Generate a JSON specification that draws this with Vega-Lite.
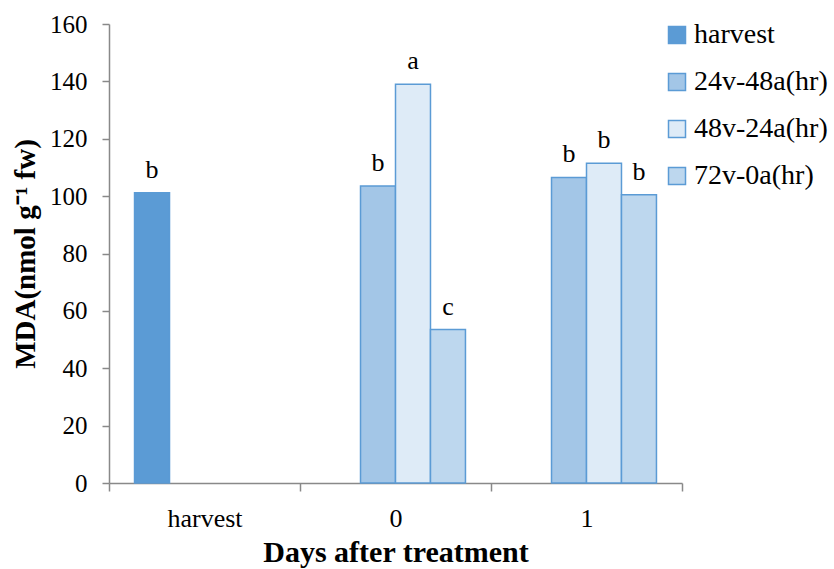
{
  "$schema": "https://vega.github.io/schema/vega-lite/v6.json",
  "width": 573,
  "height": 459,
  "autosize": {"type": "none"},
  "padding": {"left": 109, "top": 24, "right": 152, "bottom": 86},
  "background": "white",
  "config": {
    "view": {"stroke": null},
    "font": "Liberation Serif",
    "axis": {"labelFont": "Liberation Serif", "titleFont": "Liberation Serif"},
    "legend": {"labelFont": "Liberation Serif", "titleFont": "Liberation Serif"},
    "text": {"font": "Liberation Serif"}
  },
  "data": {
    "values": [
      {"day": "harvest", "series": "harvest", "value": 101.2, "label": "b"},
      {"day": "0", "series": "24v-48a(hr)", "value": 103.5, "label": "b"},
      {"day": "0", "series": "48v-24a(hr)", "value": 139.0, "label": "a"},
      {"day": "0", "series": "72v-0a(hr)", "value": 53.5, "label": "c"},
      {"day": "1", "series": "24v-48a(hr)", "value": 106.5, "label": "b"},
      {"day": "1", "series": "48v-24a(hr)", "value": 111.5, "label": "b"},
      {"day": "1", "series": "72v-0a(hr)", "value": 100.5, "label": "b"}
    ]
  },
  "encoding": {
    "x": {
      "field": "day",
      "type": "nominal",
      "sort": ["harvest", "0", "1"],
      "scale": {"paddingInner": 0, "paddingOuter": 0},
      "axis": {
        "title": "Days after treatment",
        "titleFont": "Liberation Serif",
        "titleFontSize": 30,
        "titleFontWeight": "bold",
        "titleColor": "black",
        "titlePadding": 6,
        "labelFont": "Liberation Serif",
        "labelAngle": 0,
        "labelFontSize": 26,
        "labelColor": "black",
        "labelPadding": 14,
        "tickBand": "extent",
        "tickSize": 8,
        "tickColor": "#898989",
        "tickWidth": 1.5,
        "domainColor": "#898989",
        "domainWidth": 1.5,
        "grid": false
      }
    },
    "xOffset": {
      "field": "series",
      "type": "nominal",
      "sort": ["harvest", "24v-48a(hr)", "48v-24a(hr)", "72v-0a(hr)"],
      "scale": {"domain": ["harvest", "24v-48a(hr)", "48v-24a(hr)", "72v-0a(hr)"], "paddingInner": 0, "paddingOuter": 0.73}
    },
    "y": {
      "field": "value",
      "type": "quantitative",
      "scale": {"domain": [0, 160]},
      "axis": {
        "title": "MDA(nmol g⁻¹ fw)",
        "titleFont": "Liberation Serif",
        "titleFontSize": 29,
        "titleFontWeight": "bold",
        "titleColor": "black",
        "titlePadding": 9,
        "values": [0, 20, 40, 60, 80, 100, 120, 140, 160],
        "labelFont": "Liberation Serif",
        "labelFontSize": 25,
        "labelColor": "black",
        "labelPadding": 15,
        "tickSize": 7,
        "tickColor": "#898989",
        "tickWidth": 1.5,
        "domainColor": "#898989",
        "domainWidth": 1.5,
        "grid": false
      }
    }
  },
  "layer": [
    {
      "mark": {"type": "bar", "stroke": "#5B9BD5", "strokeWidth": 1.5},
      "encoding": {
        "fill": {
          "field": "series",
          "type": "nominal",
          "scale": {
            "domain": ["harvest", "24v-48a(hr)", "48v-24a(hr)", "72v-0a(hr)"],
            "range": ["#5B9BD5", "#A3C6E7", "#DEEBF7", "#BDD7EE"]
          },
          "legend": {
            "title": null,
            "orient": "none",
            "legendX": 554,
            "legendY": -3,
            "labelFont": "Liberation Serif",
            "labelFontSize": 28,
            "labelColor": "black",
            "labelOffset": 3,
            "symbolType": "square",
            "symbolSize": 289,
            "symbolStrokeColor": "#5B9BD5",
            "symbolStrokeWidth": 1.5,
            "symbolOpacity": 1,
            "rowPadding": 19,
            "labelLimit": 300
          }
        }
      }
    },
    {
      "mark": {"type": "text", "baseline": "alphabetic", "dy": -15, "fontSize": 26, "color": "black", "font": "Liberation Serif"},
      "encoding": {"text": {"field": "label"}}
    }
  ]
}
